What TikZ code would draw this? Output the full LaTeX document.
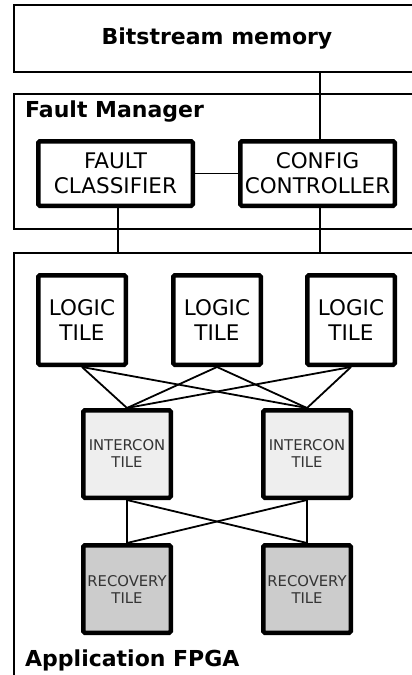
\documentclass[tikz,border=0pt]{standalone}
\usepackage{fontspec}
\setmainfont{DejaVu Sans}
\definecolor{iconfill}{HTML}{EEEEEE}
\definecolor{recfill}{HTML}{CCCCCC}
\definecolor{tiletext}{HTML}{333333}
\begin{document}
\begin{tikzpicture}[x=1pt,y=-1pt,
  region/.style={draw=black,line width=1.5pt,fill=white},
  regionlabel/.style={anchor=west,inner sep=0pt,font=\fontsize{22}{26}\selectfont\bfseries},
  tilebox/.style={draw=black,line width=4.5pt,rounded corners=1.5pt,align=center,inner sep=0pt},
  bigtile/.style={tilebox,fill=white,font=\fontsize{21.5}{25}\selectfont},
  smalltile/.style={tilebox,text=tiletext,font=\fontsize{14.8}{17}\selectfont},
  wire/.style={draw=black,line width=1.8pt}]
\useasboundingbox (0,0) rectangle (412,675);
\clip (0,0) rectangle (412,675);

% outer regions, running past the right edge
\node[region,minimum width=406pt,minimum height=67pt,
      font=\fontsize{22}{26}\selectfont\bfseries] (mem) at (217,38.5) {Bitstream memory};
\node[region,minimum width=406pt,minimum height=135pt] (fm) at (217,161.5) {};
\node[regionlabel] (fmlabel) at (25,112) {Fault Manager};
\node[region,minimum width=406pt,minimum height=440pt] (fpga) at (217,473) {};
\node[regionlabel] (fpgalabel) at (25,660) {Application FPGA};

% fault manager blocks
\node[bigtile,minimum width=154.5pt,minimum height=64.5pt] (fc) at (115.5,173.5) {FAULT\\CLASSIFIER};
\node[bigtile,minimum width=154.5pt,minimum height=64.5pt] (cc) at (317.5,173.5) {CONFIG\\CONTROLLER};

% FPGA tiles
\node[bigtile,minimum width=87.5pt,minimum height=89.5pt] (l1) at (82,320) {LOGIC\\TILE};
\node[bigtile,minimum width=87.5pt,minimum height=89.5pt] (l2) at (217,320) {LOGIC\\TILE};
\node[bigtile,minimum width=87.5pt,minimum height=89.5pt] (l3) at (351,320) {LOGIC\\TILE};
\node[smalltile,fill=iconfill,minimum width=87.5pt,minimum height=87.5pt] (i1) at (127,454) {INTERCON\\TILE};
\node[smalltile,fill=iconfill,minimum width=87.5pt,minimum height=87.5pt] (i2) at (307,454) {INTERCON\\TILE};
\node[smalltile,fill=recfill,minimum width=87.5pt,minimum height=87.5pt] (r1) at (127,589) {RECOVERY\\TILE};
\node[smalltile,fill=recfill,minimum width=87.5pt,minimum height=87.5pt] (r2) at (307,589) {RECOVERY\\TILE};

% connections
\draw[wire] (mem.south -| 320,0) -- (320,0 |- cc.north);
\draw[wire] (fc) -- (cc);
\draw[wire] (118,0 |- fc.south) -- (118,0 |- fpga.north);
\draw[wire] (320,0 |- cc.south) -- (320,0 |- fpga.north);
\foreach \l in {l1,l2,l3}
  \foreach \i in {i1,i2}
    \draw[wire] (\l.south) -- (\i.north);
\foreach \i in {i1,i2}
  \foreach \r in {r1,r2}
    \draw[wire] (\i.south) -- (\r.north);
\end{tikzpicture}
\end{document}
